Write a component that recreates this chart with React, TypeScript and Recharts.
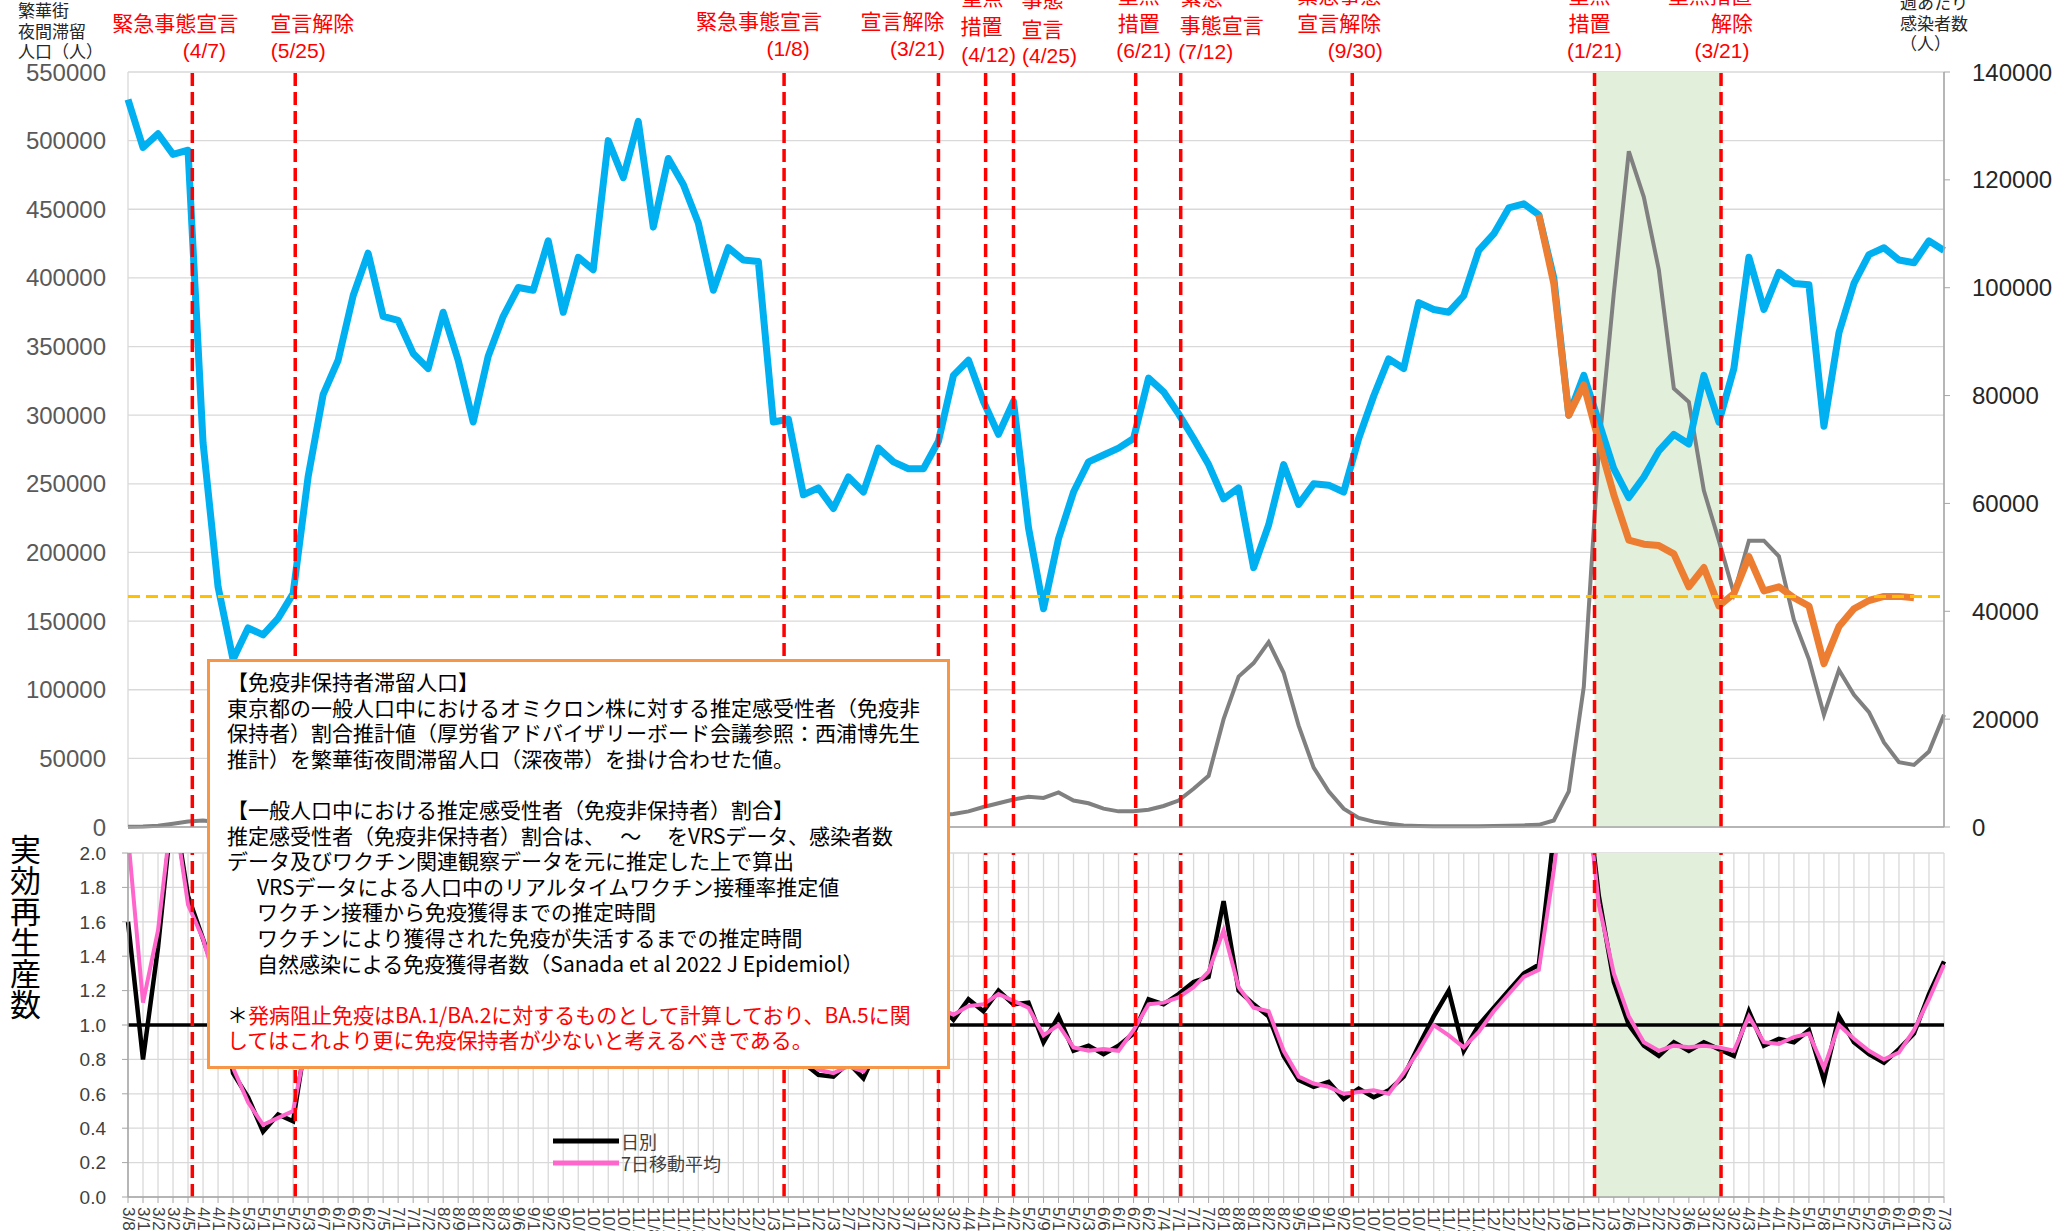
import React from "react";
import {
  LineChart,
  Line,
  XAxis,
  YAxis,
  CartesianGrid,
  ReferenceLine,
  ReferenceArea,
} from "recharts";

// weekly categories (Sunday of each week), 2020/3/8 - 2022/7/3
const weekLabels = [
  "3/8", "3/15", "3/22", "3/29", "4/5", "4/12", "4/19", "4/26", "5/3", "5/10", "5/17", "5/24", "5/31",
  "6/7", "6/14", "6/21", "6/28", "7/5", "7/12", "7/19", "7/26", "8/2", "8/9", "8/16", "8/23", "8/30",
  "9/6", "9/13", "9/20", "9/27", "10/4", "10/11", "10/18", "10/25", "11/1", "11/8", "11/15", "11/22",
  "11/29", "12/6", "12/13", "12/20", "12/27",
  "1/3", "1/10", "1/17", "1/24", "1/31", "2/7", "2/14", "2/21", "2/28", "3/7", "3/14", "3/21", "3/28",
  "4/4", "4/11", "4/18", "4/25", "5/2", "5/9", "5/16", "5/23", "5/30", "6/6", "6/13", "6/20", "6/27",
  "7/4", "7/11", "7/18", "7/25", "8/1", "8/8", "8/15", "8/22", "8/29", "9/5", "9/12", "9/19", "9/26",
  "10/3", "10/10", "10/17", "10/24", "10/31", "11/7", "11/14", "11/21", "11/28", "12/5", "12/12",
  "12/19", "12/26",
  "1/2", "1/9", "1/16", "1/23", "1/30", "2/6", "2/13", "2/20", "2/27", "3/6", "3/13", "3/20", "3/27",
  "4/3", "4/10", "4/17", "4/24", "5/1", "5/8", "5/15", "5/22", "5/29", "6/5", "6/12", "6/19", "6/26",
  "7/3",
];
const firstWeek = Date.UTC(2020, 2, 8);

// 繁華街夜間滞留人口（人）
const nightPopulation = [
  530000, 495000, 505000, 490000, 493000, 280000, 175000, 122000, 145000, 140000, 152000, 170000,
  255000, 315000, 340000, 387000, 418000, 372000, 369000, 345000, 334000, 375000, 340000, 295000,
  343000, 372000, 393000, 391000, 427000, 375000, 415000, 406000, 500000, 473000, 514000, 437000,
  487000, 468000, 440000, 391000, 422000, 413000, 412000, 295000, 297000, 242000, 247000, 232000,
  255000, 244000, 276000, 266000, 261000, 261000, 281000, 329000, 340000, 310000, 286000, 310000,
  218000, 159000, 210000, 244000, 266000, 271000, 276000, 283000, 327000, 317000, 301000, 283000,
  264000, 239000, 247000, 189000, 220000, 264000, 235000, 250000, 249000, 244000, 283000, 314000,
  341000, 334000, 382000, 377000, 375000, 387000, 420000, 432000, 451000, 454000, 446000, 400000,
  300000, 329000, 295000, 261000, 240000, 255000, 274000, 286000, 279000, 329000, 295000, 334000,
  415000, 377000, 404000, 396000, 395000, 292000, 360000, 396000, 417000, 422000, 413000, 411000,
  427000, 420000,
];

// 週あたり感染者数（人）
const weeklyCases = [
  60, 80, 250, 600, 1000, 1200, 900, 600, 250, 80, 40, 60, 100, 150, 200, 300, 600, 1100, 1400, 1500,
  1900, 2300, 1900, 1600, 1200, 1100, 1100, 1200, 1100, 1300, 1300, 1100, 1200, 1200, 1500, 2000,
  2800, 3000, 3000, 3300, 4000, 5000, 7000, 10500, 11000, 8500, 6000, 4000, 2800, 2200, 2000, 1900,
  2000, 2100, 2200, 2400, 2900, 3700, 4400, 5100, 5600, 5400, 6400, 4900, 4400, 3400, 2900, 2900,
  3200, 3900, 4900, 7100, 9500, 20000, 27900, 30400, 34300, 28600, 18800, 11000, 6600, 3400, 1700,
  1000, 600, 300, 200, 150, 150, 150, 150, 200, 250, 300, 400, 1200, 6600, 26000, 70000, 99000,
  125300, 116800, 103300, 81300, 78800, 62400, 53100, 43300, 53100, 53100, 50200, 38400, 31100,
  20800, 29100, 24500, 21300, 15700, 12000, 11500, 14000, 20800,
];

// 免疫非保持者滞留人口（人）, from week index 94
const nonImmuneStart = 94;
const nonImmunePopulation = [
  446000, 396000, 300000, 322000, 281000, 242000, 209000, 206000, 205000, 199000, 175000, 189000,
  161000, 170000, 197000, 172000, 175000, 167000, 161000, 119000, 146000, 159000, 165000, 168000,
  168000, 167000,
];
const thresholdLevel = 168000;

// 実効再生産数
const rtDaily = [
  1.6, 0.8, 1.45, 2.3, 1.75, 1.5, 1.25, 0.72, 0.58, 0.38, 0.48, 0.44, 1.0, 1.45, 1.55, 1.75, 1.7,
  1.65, 1.25, 1.25, 1.15, 1.02, 0.82, 0.88, 0.88, 0.98, 0.97, 1.03, 0.92, 1.08, 0.98, 1.03, 1.08,
  1.18, 1.22, 1.33, 1.18, 1.02, 1.08, 1.07, 1.18, 1.17, 1.33, 1.17, 0.92, 0.78, 0.71, 0.7, 0.78,
  0.69, 0.88, 0.93, 1.03, 1.02, 1.12, 1.03, 1.15, 1.08, 1.2, 1.12, 1.13, 0.9, 1.05, 0.85, 0.88,
  0.83, 0.88, 0.95, 1.15, 1.12, 1.18, 1.25, 1.28, 1.72, 1.2, 1.12, 1.05, 0.82, 0.68, 0.64, 0.67,
  0.57, 0.63, 0.58, 0.62, 0.7, 0.88, 1.05, 1.2, 0.85, 1.0, 1.1, 1.2, 1.3, 1.35, 2.1, 2.6, 2.5, 1.75,
  1.25, 1.0, 0.88, 0.82, 0.9, 0.85, 0.9, 0.86, 0.82, 1.08, 0.88, 0.92, 0.9, 0.97, 0.68, 1.05, 0.9,
  0.83, 0.78, 0.86, 0.95, 1.18, 1.37,
];
const rtAverage = [
  2.1, 1.13, 1.55, 2.3, 1.7, 1.5, 1.2, 0.75, 0.55, 0.42, 0.46, 0.5, 0.95, 1.4, 1.6, 1.7, 1.8, 1.6,
  1.3, 1.2, 1.2, 1.0, 0.85, 0.85, 0.9, 0.95, 1.0, 1.0, 0.95, 1.05, 1.0, 1.0, 1.1, 1.15, 1.25, 1.3,
  1.2, 1.05, 1.05, 1.1, 1.15, 1.2, 1.3, 1.2, 0.95, 0.8, 0.74, 0.72, 0.76, 0.73, 0.85, 0.95, 1.0,
  1.05, 1.1, 1.06, 1.11, 1.12, 1.18, 1.14, 1.1, 0.94, 1.0, 0.87, 0.85, 0.86, 0.85, 0.97, 1.12, 1.13,
  1.16, 1.22, 1.31, 1.55, 1.22, 1.1, 1.08, 0.85, 0.7, 0.66, 0.64, 0.6, 0.61, 0.62, 0.6, 0.72, 0.85,
  1.0, 0.94, 0.87, 0.96, 1.08, 1.18, 1.28, 1.32, 1.9, 2.6, 2.5, 1.7, 1.3, 1.05, 0.9, 0.85, 0.88,
  0.87, 0.88, 0.87, 0.85, 1.05, 0.9, 0.89, 0.93, 0.95, 0.75, 1.0, 0.92, 0.85, 0.8, 0.84, 0.97, 1.15,
  1.35,
];

// events (red dashed lines)
const eventDates = [
  "2020-04-07", "2020-05-25", "2021-01-08", "2021-03-21", "2021-04-12", "2021-04-25",
  "2021-06-21", "2021-07-12", "2021-09-30", "2022-01-21", "2022-03-21",
];
const eventTexts = [
  ["緊急事態宣言", "(4/7)"],
  ["宣言解除", "(5/25)"],
  ["緊急事態宣言", "(1/8)"],
  ["宣言解除", "(3/21)"],
  ["重点", "措置", "(4/12)"],
  ["事態", "宣言", "(4/25)"],
  ["重点", "措置", "(6/21)"],
  ["緊急", "事態宣言", "(7/12)"],
  ["緊急事態", "宣言解除", "(9/30)"],
  ["重点", "措置", "(1/21)"],
  ["重点措置", "解除", "(3/21)"],
];
// label placement relative to each line (px)
const labelDx = [
  [-17, 12], [17, 3], [-25, 4], [-36, -21], [-3, -4, 3], [29, 29, 36],
  [3, 3, 8], [21, 41, 25], [-13, -13, 3], [-5, -5, 0], [-11, 11, 1],
];
const labelY = [
  [22, 50], [22, 50], [20, 48], [20, 48], [-4, 25, 54], [-2, 28, 55],
  [-6, 22, 50], [-4, 24, 51], [-6, 22, 50], [-6, 22, 50], [-6, 22, 50],
];
const shadeFrom = "2022-01-21";
const shadeTo = "2022-03-21";

const weekIndex = (d: string) => {
  const [y, m, day] = d.split("-").map(Number);
  return (Date.UTC(y, m - 1, day) - firstWeek) / (7 * 86400000);
};

const data = weekLabels.map((label, i) => ({
  i,
  label,
  night: nightPopulation[i],
  cases: weeklyCases[i],
  nonImmune:
    i >= nonImmuneStart && i - nonImmuneStart < nonImmunePopulation.length
      ? nonImmunePopulation[i - nonImmuneStart]
      : null,
  rt: rtDaily[i],
  rt7: rtAverage[i],
}));

const xTicks = weekLabels.map((_, i) => i);
const leftTicks = [0, 50000, 100000, 150000, 200000, 250000, 300000, 350000, 400000, 450000, 500000, 550000];
const rightTicks = [0, 20000, 40000, 60000, 80000, 100000, 120000, 140000];
const rtTicks = [0, 0.2, 0.4, 0.6, 0.8, 1.0, 1.2, 1.4, 1.6, 1.8, 2.0];

const JP = '"Noto Sans CJK JP", "Noto Sans", sans-serif';
const NUM = '"Liberation Sans", Arial, sans-serif';
const GRID = "#d9d9d9";
const AXIS = "#a6a6a6";

const eventLabel = (k: number) => (props: any) => {
  const x = props?.viewBox?.x ?? 0;
  return (
    <g>
      {eventTexts[k].map((t, j) => (
        <text
          key={j}
          x={x + labelDx[k][j]}
          y={labelY[k][j]}
          textAnchor="middle"
          dominantBaseline="central"
          fill="#ff0000"
          fontSize={21}
          fontFamily={t.startsWith("(") ? NUM : JP}
        >
          {t}
        </text>
      ))}
    </g>
  );
};

const WeekTick = (props: any) => {
  const { x, y, payload } = props;
  return (
    <text
      x={x}
      y={y}
      transform={`rotate(90 ${x} ${y})`}
      textAnchor="start"
      dominantBaseline="central"
      fontSize={17}
      fontFamily={NUM}
      fill="#404040"
    >
      {weekLabels[payload.value]}
    </text>
  );
};

const boxLines: { text: string; indent?: boolean; red?: boolean; star?: boolean }[] = [
  { text: "【免疫非保持者滞留人口】" },
  { text: "東京都の一般人口中におけるオミクロン株に対する推定感受性者（免疫非" },
  { text: "保持者）割合推計値（厚労省アドバイザリーボード会議参照：西浦博先生" },
  { text: "推計）を繁華街夜間滞留人口（深夜帯）を掛け合わせた値。" },
  { text: "" },
  { text: "【一般人口中における推定感受性者（免疫非保持者）割合】" },
  { text: "推定感受性者（免疫非保持者）割合は、　 ～ 　をVRSデータ、感染者数" },
  { text: "データ及びワクチン関連観察データを元に推定した上で算出" },
  { text: "VRSデータによる人口中のリアルタイムワクチン接種率推定値", indent: true },
  { text: "ワクチン接種から免疫獲得までの推定時間", indent: true },
  { text: "ワクチンにより獲得された免疫が失活するまでの推定時間", indent: true },
  { text: "自然感染による免疫獲得者数（Sanada et al 2022 J Epidemiol）", indent: true },
  { text: "" },
  { text: "発病阻止免疫はBA.1/BA.2に対するものとして計算しており、BA.5に関", red: true, star: true },
  { text: "してはこれより更に免疫保持者が少ないと考えるべきである。", red: true },
];

export default function App() {
  const shadeX1 = weekIndex(shadeFrom);
  const shadeX2 = weekIndex(shadeTo);
  return (
    <div
      style={{
        position: "absolute",
        left: 0,
        top: 0,
        width: 2067,
        height: 1231,
        overflow: "hidden",
        background: "#ffffff",
        fontFamily: JP,
      }}
    >
      {/* upper panel */}
      <div style={{ position: "absolute", left: 0, top: 0 }}>
        <LineChart
          width={2067}
          height={840}
          data={data}
          margin={{ top: 72, right: 13, bottom: 12, left: 28 }}
        >
          <CartesianGrid stroke={GRID} strokeWidth={1.3} />
          <ReferenceArea x1={shadeX1} x2={shadeX2} fill="#e2efda" fillOpacity={1} stroke="none" />
          <XAxis
            dataKey="i"
            type="number"
            domain={[0, weekLabels.length - 1]}
            ticks={xTicks}
            interval={0}
            tick={false}
            tickLine={false}
            height={1}
            axisLine={{ stroke: AXIS, strokeWidth: 1.5 }}
          />
          <YAxis
            domain={[0, 550000]}
            ticks={leftTicks}
            interval={0}
            width={100}
            tickLine={false}
            axisLine={false}
            tickSize={0}
            tickMargin={22}
            tick={{ fill: "#595959", fontSize: 24, fontFamily: NUM }}
          />
          <YAxis
            yAxisId="right"
            orientation="right"
            domain={[0, 140000]}
            ticks={rightTicks}
            interval={0}
            width={110}
            tickSize={6}
            tickMargin={22}
            tickLine={{ stroke: AXIS }}
            axisLine={{ stroke: AXIS, strokeWidth: 1.5 }}
            tick={{ fill: "#262626", fontSize: 24, fontFamily: NUM }}
          />
          <Line
            yAxisId="right"
            type="linear"
            dataKey="cases"
            stroke="#808080"
            strokeWidth={4}
            dot={false}
            isAnimationActive={false}
          />
          <Line
            type="linear"
            dataKey="night"
            stroke="#00b0f0"
            strokeWidth={7}
            strokeLinejoin="round"
            dot={false}
            isAnimationActive={false}
          />
          <Line
            type="linear"
            dataKey="nonImmune"
            stroke="#ed7d31"
            strokeWidth={7}
            strokeLinejoin="round"
            dot={false}
            connectNulls={false}
            isAnimationActive={false}
          />
          <ReferenceLine y={thresholdLevel} stroke="#ffc000" strokeWidth={3} strokeDasharray="12 6" />
          {eventDates.map((d, k) => (
            <ReferenceLine
              key={d}
              x={weekIndex(d)}
              stroke="#ff0000"
              strokeWidth={3.5}
              strokeDasharray="13 6"
              label={eventLabel(k)}
            />
          ))}
        </LineChart>
      </div>

      {/* lower panel: 実効再生産数 */}
      <div style={{ position: "absolute", left: 0, top: 840 }}>
        <LineChart
          width={2067}
          height={420}
          data={data}
          margin={{ top: 13, right: 123, bottom: 0, left: 28 }}
        >
          <CartesianGrid stroke={GRID} strokeWidth={1.3} />
          <ReferenceArea x1={shadeX1} x2={shadeX2} fill="#e2efda" fillOpacity={1} stroke="none" />
          <XAxis
            dataKey="i"
            type="number"
            domain={[0, weekLabels.length - 1]}
            ticks={xTicks}
            interval={0}
            height={63}
            tickSize={6}
            tickMargin={4}
            tickLine={{ stroke: AXIS }}
            axisLine={{ stroke: AXIS, strokeWidth: 1.5 }}
            tick={<WeekTick />}
          />
          <YAxis
            domain={[0, 2]}
            ticks={rtTicks}
            interval={0}
            allowDataOverflow
            width={100}
            tickSize={6}
            tickMargin={16}
            tickLine={{ stroke: AXIS }}
            axisLine={{ stroke: AXIS, strokeWidth: 1.5 }}
            tickFormatter={(v: number) => v.toFixed(1)}
            tick={{ fill: "#404040", fontSize: 19, fontFamily: NUM }}
          />
          <ReferenceLine y={1} stroke="#000000" strokeWidth={3.5} />
          <Line
            type="linear"
            dataKey="rt"
            stroke="#000000"
            strokeWidth={4.5}
            dot={false}
            isAnimationActive={false}
          />
          <Line
            type="linear"
            dataKey="rt7"
            stroke="#ff66cc"
            strokeWidth={4}
            dot={false}
            isAnimationActive={false}
          />
          {eventDates.map((d) => (
            <ReferenceLine
              key={d}
              x={weekIndex(d)}
              stroke="#ff0000"
              strokeWidth={3.5}
              strokeDasharray="13 6"
            />
          ))}
        </LineChart>
      </div>

      {/* axis titles */}
      <div style={{ position: "absolute", left: 18, top: 0, fontSize: 17, lineHeight: "20.5px", color: "#262626" }}>
        <div>繁華街</div>
        <div>夜間滞留</div>
        <div>人口（人）</div>
      </div>
      <div style={{ position: "absolute", left: 1900, top: -8, fontSize: 17, lineHeight: "20.5px", color: "#262626" }}>
        <div>週あたり</div>
        <div>感染者数</div>
        <div>（人）</div>
      </div>
      <div
        style={{
          position: "absolute",
          left: 10,
          top: 834,
          fontSize: 31,
          lineHeight: "31px",
          writingMode: "vertical-rl",
          color: "#000000",
        }}
      >
        実効再生産数
      </div>

      {/* legend */}
      <div style={{ position: "absolute", left: 553, top: 1130, fontSize: 18, lineHeight: "22px", color: "#404040" }}>
        <div style={{ display: "flex", alignItems: "center" }}>
          <svg width={68} height={22}>
            <line x1={0} y1={11} x2={66} y2={11} stroke="#000000" strokeWidth={5} />
          </svg>
          <span>日別</span>
        </div>
        <div style={{ display: "flex", alignItems: "center" }}>
          <svg width={68} height={22}>
            <line x1={0} y1={11} x2={66} y2={11} stroke="#ff66cc" strokeWidth={5} />
          </svg>
          <span>7日移動平均</span>
        </div>
      </div>

      {/* note box */}
      <div
        style={{
          position: "absolute",
          left: 207,
          top: 659,
          width: 743,
          height: 410,
          boxSizing: "border-box",
          border: "3px solid #f79646",
          background: "#ffffff",
          padding: "7px 6px 0 17px",
          fontSize: 21,
          lineHeight: "25.6px",
          color: "#000000",
          whiteSpace: "nowrap",
          overflow: "hidden",
        }}
      >
        {boxLines.map((l, k) => (
          <div key={k} style={{ height: 25.6, paddingLeft: l.indent ? 30 : 0, color: l.red ? "#ff0000" : "#000000" }}>
            {l.star ? <span style={{ color: "#000000" }}>＊</span> : null}
            {l.text}
          </div>
        ))}
      </div>
    </div>
  );
}
